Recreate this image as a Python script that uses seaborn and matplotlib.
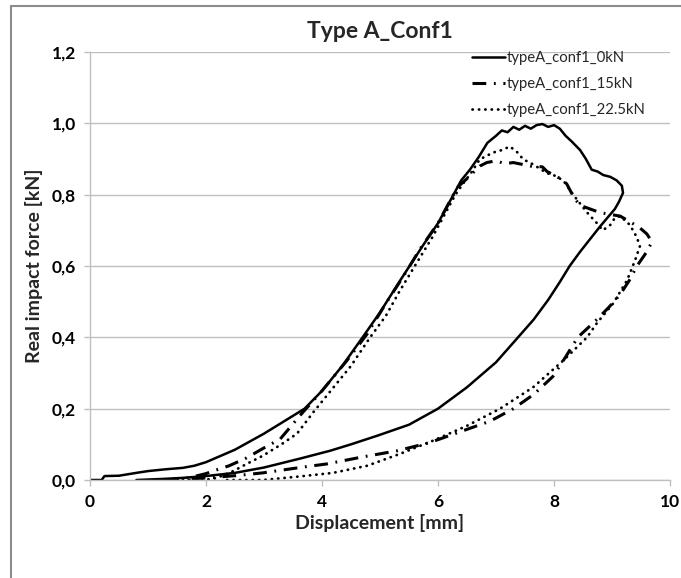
import seaborn as sns
import pandas as pd
import matplotlib
matplotlib.use("Agg")
import matplotlib.pyplot as plt
from matplotlib.lines import Line2D

# curve data (displacement in mm, force in kN)
x_0kN = [0.0, 0.2, 0.25, 0.5, 0.8, 1.0, 1.3, 1.6, 1.8, 2.0, 2.5, 3.0, 3.4, 3.7,
         4.0, 4.35, 4.7, 5.0, 5.35, 5.55, 5.75, 6.0, 6.2, 6.4, 6.55, 6.7, 6.85,
         7.0, 7.1, 7.2, 7.3, 7.4, 7.5, 7.6, 7.7, 7.8, 7.9, 8.0, 8.1, 8.2, 8.3,
         8.45, 8.55, 8.65, 8.75, 8.85, 8.97, 9.08, 9.17, 9.19,
         9.12, 9.05, 8.92, 8.79, 8.62, 8.45, 8.27, 8.1, 7.9, 7.65, 7.38, 7.0,
         6.5, 6.0, 5.5, 4.95, 4.5, 4.14, 3.62, 3.0, 2.5, 2.0, 1.6, 1.26, 0.8]
y_0kN = [0.0, 0.0, 0.011, 0.012, 0.02, 0.025, 0.03, 0.034, 0.04, 0.05, 0.085,
         0.13, 0.17, 0.2, 0.25, 0.32, 0.4, 0.47, 0.56, 0.61, 0.66, 0.72, 0.78,
         0.84, 0.87, 0.905, 0.945, 0.965, 0.98, 0.975, 0.99, 0.982, 0.993,
         0.985, 0.995, 0.998, 0.99, 0.995, 0.985, 0.965, 0.95, 0.925, 0.9,
         0.87, 0.865, 0.855, 0.85, 0.84, 0.825, 0.805,
         0.78, 0.76, 0.735, 0.71, 0.675, 0.64, 0.6, 0.555, 0.505, 0.45, 0.4,
         0.33, 0.26, 0.2, 0.155, 0.124, 0.1, 0.082, 0.06, 0.035, 0.02, 0.011,
         0.006, 0.003, 0.0]

x_15kN = [1.3, 1.6, 1.8, 2.0, 2.12, 2.4, 2.7, 3.0, 3.28, 3.67, 4.0, 4.43, 4.78,
          5.12, 5.4, 5.7, 6.0, 6.2, 6.33, 6.5, 6.72, 6.84, 7.0, 7.15, 7.3, 7.45,
          7.6, 7.8, 7.88, 8.0, 8.16, 8.22, 8.35, 8.45, 8.62, 8.79, 8.95, 9.14,
          9.3, 9.48, 9.6, 9.69,
          9.6, 9.43, 9.3, 9.14, 8.95, 8.74, 8.41, 8.2, 7.98, 7.65, 7.3, 6.9,
          6.43, 5.86, 5.3, 4.71, 4.08, 3.62, 2.98, 2.5, 2.0, 1.5]
y_15kN = [0.0, 0.003, 0.01, 0.018, 0.025, 0.04, 0.062, 0.09, 0.115, 0.19, 0.25,
          0.335, 0.41, 0.5, 0.57, 0.65, 0.72, 0.78, 0.82, 0.845, 0.88, 0.89,
          0.895, 0.887, 0.89, 0.885, 0.88, 0.878, 0.865, 0.855, 0.84, 0.83,
          0.79, 0.77, 0.76, 0.75, 0.745, 0.74, 0.725, 0.707, 0.69, 0.668,
          0.64, 0.6, 0.56, 0.52, 0.485, 0.45, 0.4, 0.345, 0.29, 0.24, 0.2,
          0.165, 0.138, 0.105, 0.082, 0.065, 0.045, 0.035, 0.02, 0.012, 0.006,
          0.0]

x_22kN = [1.6, 1.9, 2.12, 2.3, 2.47, 2.7, 2.98, 3.3, 3.57, 3.85, 4.1, 4.5, 4.83,
          5.1, 5.34, 5.6, 5.9, 6.1, 6.3, 6.45, 6.55, 6.72, 6.95, 7.1, 7.24,
          7.36, 7.47, 7.64, 7.88, 7.98, 8.16, 8.33, 8.45, 8.57, 8.74, 8.84,
          8.97, 9.05, 9.14, 9.31, 9.43, 9.48,
          9.4, 9.26, 9.02, 8.74, 8.57, 8.16, 7.64, 7.07, 6.5, 5.91, 5.34, 4.78,
          4.19, 3.62, 2.98, 2.3]
y_22kN = [0.0, 0.0, 0.003, 0.013, 0.025, 0.045, 0.068, 0.1, 0.13, 0.19, 0.24,
          0.32, 0.4, 0.46, 0.53, 0.6, 0.68, 0.74, 0.8, 0.835, 0.856, 0.899,
          0.918, 0.925, 0.935, 0.92, 0.899, 0.885, 0.86, 0.856, 0.84, 0.8,
          0.775, 0.75, 0.72, 0.7, 0.715, 0.735, 0.74, 0.715, 0.68, 0.655,
          0.617, 0.56, 0.495, 0.44, 0.4, 0.335, 0.26, 0.2, 0.152, 0.11, 0.073,
          0.04, 0.02, 0.01, 0.0, 0.0]

labels = ["typeA_conf1_0kN", "typeA_conf1_15kN", "typeA_conf1_22.5kN"]
x_ticks = [0, 2, 4, 6, 8, 10]
y_ticks = [0.0, 0.2, 0.4, 0.6, 0.8, 1.0, 1.2]
y_tick_labels = ["0,0", "0,2", "0,4", "0,6", "0,8", "1,0", "1,2"]

sns.set_theme(style="white")
plt.rcParams["font.family"] = ["Lato", "DejaVu Sans"]

W, H = 681, 578
fig = plt.figure(figsize=(W / 100, H / 100), dpi=100)
ax = fig.add_axes([90 / W, (H - 480) / H, 580 / W, 428 / H])

grey = "#bfbfbf"
sns.lineplot(x=x_0kN, y=y_0kN, sort=False, estimator=None, ax=ax,
             color="black", linewidth=1.8, label=labels[0])
sns.lineplot(x=x_15kN, y=y_15kN, sort=False, estimator=None, ax=ax,
             color="black", linewidth=2.2, linestyle=(0, (4.5, 2.5, 0.6, 2.5)),
             label=labels[1])
sns.lineplot(x=x_22kN, y=y_22kN, sort=False, estimator=None, ax=ax,
             color="black", linewidth=2.0, linestyle=(0, (0.1, 2.2)),
             dash_capstyle="round", label=labels[2])

ax.set_xlim(0, 10)
ax.set_ylim(0, 1.2)
ax.set_xticks(x_ticks)
ax.set_xticklabels([str(t) for t in x_ticks], fontweight="bold", fontsize=12.5)
ax.set_yticks(y_ticks)
ax.set_yticklabels(y_tick_labels, fontweight="bold", fontsize=12.5)
ax.tick_params(axis="both", length=4, width=1, color=grey, pad=6,
               labelcolor="black", direction="out", bottom=True, left=True)
ax.yaxis.grid(True, color=grey, linewidth=1)
ax.xaxis.grid(False)
for side in ["top", "right"]:
    ax.spines[side].set_visible(False)
for side in ["left", "bottom"]:
    ax.spines[side].set_color(grey)
    ax.spines[side].set_linewidth(1)

ax.set_xlabel("Displacement [mm]", fontsize=14, fontweight="bold")
ax.set_ylabel("Real impact force [kN]", fontsize=14, fontweight="bold")
ax.xaxis.set_label_coords(0.5, -(514 - 480) / 428)
ax.yaxis.set_label_coords(-(90 - 43) / 580, 0.5)

fig.text(380 / W, 1 - 31 / H, "Type A_Conf1", ha="center", va="center",
         fontsize=16.5, fontweight="bold")

leg = ax.legend(loc="upper left", bbox_to_anchor=(472 / W, 1 - 51 / H),
                bbox_transform=fig.transFigure, frameon=False, fontsize=10.7,
                handlelength=2.2, handletextpad=0.15, labelspacing=0.8,
                borderpad=0, borderaxespad=0)

# outer chart border (top and left edges visible in the reference)
fig.add_artist(Line2D([11 / W, 1], [1 - 6 / H, 1 - 6 / H],
                      transform=fig.transFigure, color="#8c8c8c", lw=1.5))
fig.add_artist(Line2D([11 / W, 11 / W], [0, 1 - 6 / H],
                      transform=fig.transFigure, color="#8c8c8c", lw=1.5))

fig.savefig("out.png", dpi=100)
